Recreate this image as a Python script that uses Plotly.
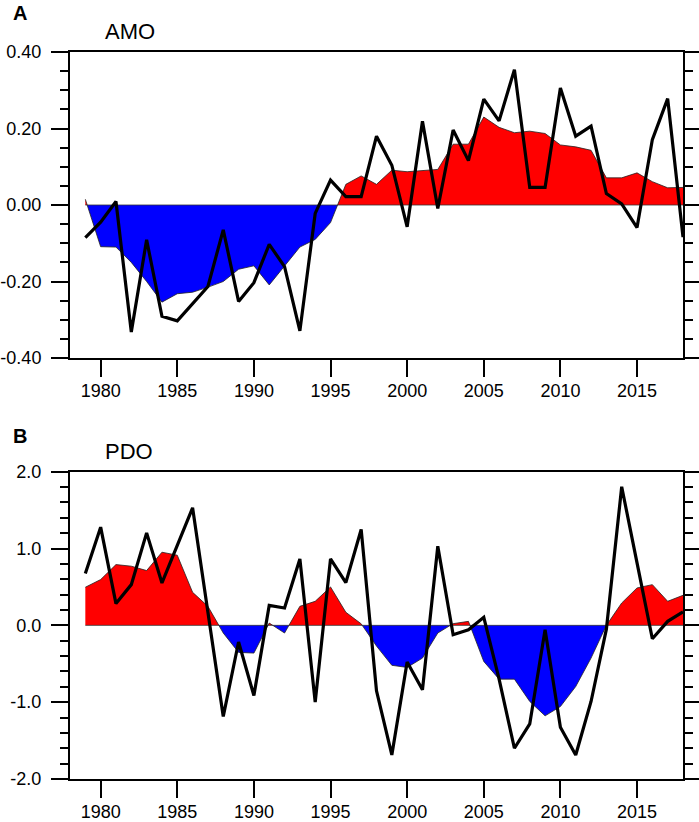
import plotly.graph_objects as go

years = list(range(1979, 2019))

amo_annual = [-0.085, -0.045, 0.009, -0.332, -0.091, -0.291, -0.303, -0.257, -0.213, -0.065,
              -0.252, -0.203, -0.103, -0.161, -0.329, -0.022, 0.065, 0.022, 0.022, 0.180,
              0.104, -0.057, 0.219, -0.009, 0.196, 0.116, 0.277, 0.220, 0.354, 0.046,
              0.046, 0.306, 0.180, 0.206, 0.030, 0.003, -0.059, 0.171, 0.278, -0.084]

amo_smooth = [0.015, -0.109, -0.110, -0.150, -0.200, -0.254, -0.232, -0.228, -0.215, -0.200,
              -0.168, -0.159, -0.209, -0.161, -0.110, -0.090, -0.046, 0.054, 0.076, 0.054,
              0.091, 0.087, 0.090, 0.093, 0.159, 0.159, 0.230, 0.203, 0.189, 0.193,
              0.187, 0.157, 0.152, 0.143, 0.071, 0.071, 0.084, 0.061, 0.045, 0.046]

pdo_annual = [0.674, 1.278, 0.283, 0.530, 1.204, 0.552, 1.040, 1.530, 0.170, -1.187,
              -0.217, -0.913, 0.261, 0.226, 0.865, -1.000, 0.865, 0.556, 1.248, -0.852,
              -1.687, -0.478, -0.839, 1.030, -0.122, -0.057, 0.104, -0.700, -1.600, -1.283,
              -0.057, -1.326, -1.687, -0.991, -0.050, 1.804, 0.813, -0.174, 0.052, 0.174]

pdo_smooth = [0.496, 0.596, 0.791, 0.770, 0.713, 0.952, 0.913, 0.430, 0.248, -0.100,
              -0.352, -0.361, 0.030, -0.100, 0.248, 0.313, 0.500, 0.170, 0.020, -0.270,
              -0.520, -0.548, -0.426, -0.100, 0.022, 0.052, -0.470, -0.700, -0.700, -0.991,
              -1.178, -1.057, -0.796, -0.426, 0.000, 0.291, 0.487, 0.530, 0.313, 0.391]

x_tickvals = [1980, 1985, 1990, 1995, 2000, 2005, 2010, 2015]
x_ticktext = ["1980", "1985", "1990", "1995", "2000", "2005", "2010", "2015"]
amo_tickvals = [-0.4, -0.2, 0.0, 0.2, 0.4]
amo_ticktext = ["-0.40", "-0.20", "0.00", "0.20", "0.40"]
pdo_tickvals = [-2.0, -1.0, 0.0, 1.0, 2.0]
pdo_ticktext = ["-2.0", "-1.0", "0.0", "1.0", "2.0"]

RED = "#FF0000"
BLUE = "#0000FF"
FONT = "Liberation Sans, Arial, Helvetica, sans-serif"


def split_sign(xs, ys):
    """Insert zero crossings so positive / negative parts fill cleanly."""
    px, py = [xs[0]], [ys[0]]
    for i in range(1, len(xs)):
        y0, y1 = ys[i - 1], ys[i]
        if (y0 > 0 and y1 < 0) or (y0 < 0 and y1 > 0):
            xc = xs[i - 1] + (xs[i] - xs[i - 1]) * (0 - y0) / (y1 - y0)
            px.append(xc)
            py.append(0.0)
        px.append(xs[i])
        py.append(ys[i])
    pos = [max(v, 0.0) for v in py]
    neg = [min(v, 0.0) for v in py]
    return px, pos, neg


fig = go.Figure()


def add_panel(xa, ya, ya_right, smooth, annual):
    px, pos, neg = split_sign(years, smooth)
    fig.add_trace(go.Scatter(x=px, y=pos, mode="lines", fill="tozeroy", fillcolor=RED,
                             line=dict(width=0, color=RED), xaxis=xa, yaxis=ya,
                             showlegend=False, hoverinfo="skip"))
    fig.add_trace(go.Scatter(x=px, y=neg, mode="lines", fill="tozeroy", fillcolor=BLUE,
                             line=dict(width=0, color=BLUE), xaxis=xa, yaxis=ya,
                             showlegend=False, hoverinfo="skip"))
    fig.add_trace(go.Scatter(x=[years[0], years[-1]], y=[0, 0], mode="lines",
                             line=dict(width=0.8, color="#333333"), xaxis=xa, yaxis=ya,
                             showlegend=False, hoverinfo="skip"))
    fig.add_trace(go.Scatter(x=years, y=smooth, mode="lines",
                             line=dict(width=0.8, color="#222222"), xaxis=xa, yaxis=ya,
                             showlegend=False))
    fig.add_trace(go.Scatter(x=years, y=annual, mode="lines",
                             line=dict(width=3.2, color="black"), xaxis=xa, yaxis=ya,
                             showlegend=False))
    # invisible companion trace so the right-hand tick axis gets drawn
    fig.add_trace(go.Scatter(x=years, y=annual, mode="lines", opacity=0,
                             line=dict(width=0, color="black"), xaxis=xa, yaxis=ya_right,
                             showlegend=False, hoverinfo="skip"))


add_panel("x", "y", "y3", amo_smooth, amo_annual)
add_panel("x2", "y2", "y4", pdo_smooth, pdo_annual)

xdom = [70 / 699, 683 / 699]
top_dom = [1 - 358 / 822, 1 - 52 / 822]
bot_dom = [1 - 779 / 822, 1 - 471.7 / 822]

xaxis_common = dict(range=[1978, 2018], tickmode="array", tickvals=x_tickvals, ticktext=x_ticktext,
                    ticks="outside", ticklen=17, tickwidth=2, tickcolor="black",
                    showline=True, linewidth=2, linecolor="black", mirror=True,
                    showgrid=False, zeroline=False, domain=xdom, automargin=False,
                    tickfont=dict(family=FONT, size=18, color="black"), ticklabelstandoff=-2)


def yaxis_common(rng, tv, tt, minor_dtick, dom):
    return dict(range=rng, tickmode="array", tickvals=tv, ticktext=tt,
                ticks="outside", ticklen=17, tickwidth=2, tickcolor="black",
                minor=dict(ticks="outside", ticklen=8, tickwidth=1.5, tickcolor="black",
                           dtick=minor_dtick, tick0=0, showgrid=False),
                showline=True, linewidth=2, linecolor="black", mirror=True,
                showgrid=False, zeroline=False, domain=dom, automargin=False,
                tickfont=dict(family=FONT, size=18, color="black"), ticklabelstandoff=6)


def yaxis_right(rng, tv, minor_dtick, dom, over, anchor):
    return dict(range=rng, tickmode="array", tickvals=tv, showticklabels=False,
                ticks="outside", ticklen=17, tickwidth=2, tickcolor="black",
                minor=dict(ticks="outside", ticklen=8, tickwidth=1.5, tickcolor="black",
                           dtick=minor_dtick, tick0=0, showgrid=False),
                showline=True, linewidth=2, linecolor="black",
                showgrid=False, zeroline=False, domain=dom, automargin=False,
                overlaying=over, side="right", anchor=anchor)


fig.update_layout(
    template="none",
    width=699, height=822,
    margin=dict(l=0, r=0, t=0, b=0, pad=0),
    paper_bgcolor="white", plot_bgcolor="white",
    font=dict(family=FONT, color="black"),
    xaxis=dict(**xaxis_common, anchor="y"),
    yaxis=dict(**yaxis_common([-0.4, 0.4], amo_tickvals, amo_ticktext, 0.05, top_dom), anchor="x"),
    xaxis2=dict(**xaxis_common, anchor="y2"),
    yaxis2=dict(**yaxis_common([-2.0, 2.0], pdo_tickvals, pdo_ticktext, 0.2, bot_dom), anchor="x2"),
    yaxis3=yaxis_right([-0.4, 0.4], amo_tickvals, 0.05, top_dom, "y", "x"),
    yaxis4=yaxis_right([-2.0, 2.0], pdo_tickvals, 0.2, bot_dom, "y2", "x2"),
    showlegend=False,
)

annots = [
    dict(text="<b>A</b>", x=11 / 699, y=1 - 13.5 / 822, size=20),
    dict(text="AMO", x=103 / 699, y=1 - 31.5 / 822, size=22),
    dict(text="<b>B</b>", x=11 / 699, y=1 - 435.5 / 822, size=20),
    dict(text="PDO", x=103 / 699, y=1 - 451.5 / 822, size=22),
]
for a in annots:
    fig.add_annotation(text=a["text"], x=a["x"], y=a["y"], xref="paper", yref="paper",
                       xanchor="left", yanchor="middle", showarrow=False,
                       font=dict(family=FONT, size=a["size"], color="black"))

fig.write_html("out.html", config={"displayModeBar": False},
               post_script="document.body.style.margin='0';document.body.style.overflow='hidden';")
